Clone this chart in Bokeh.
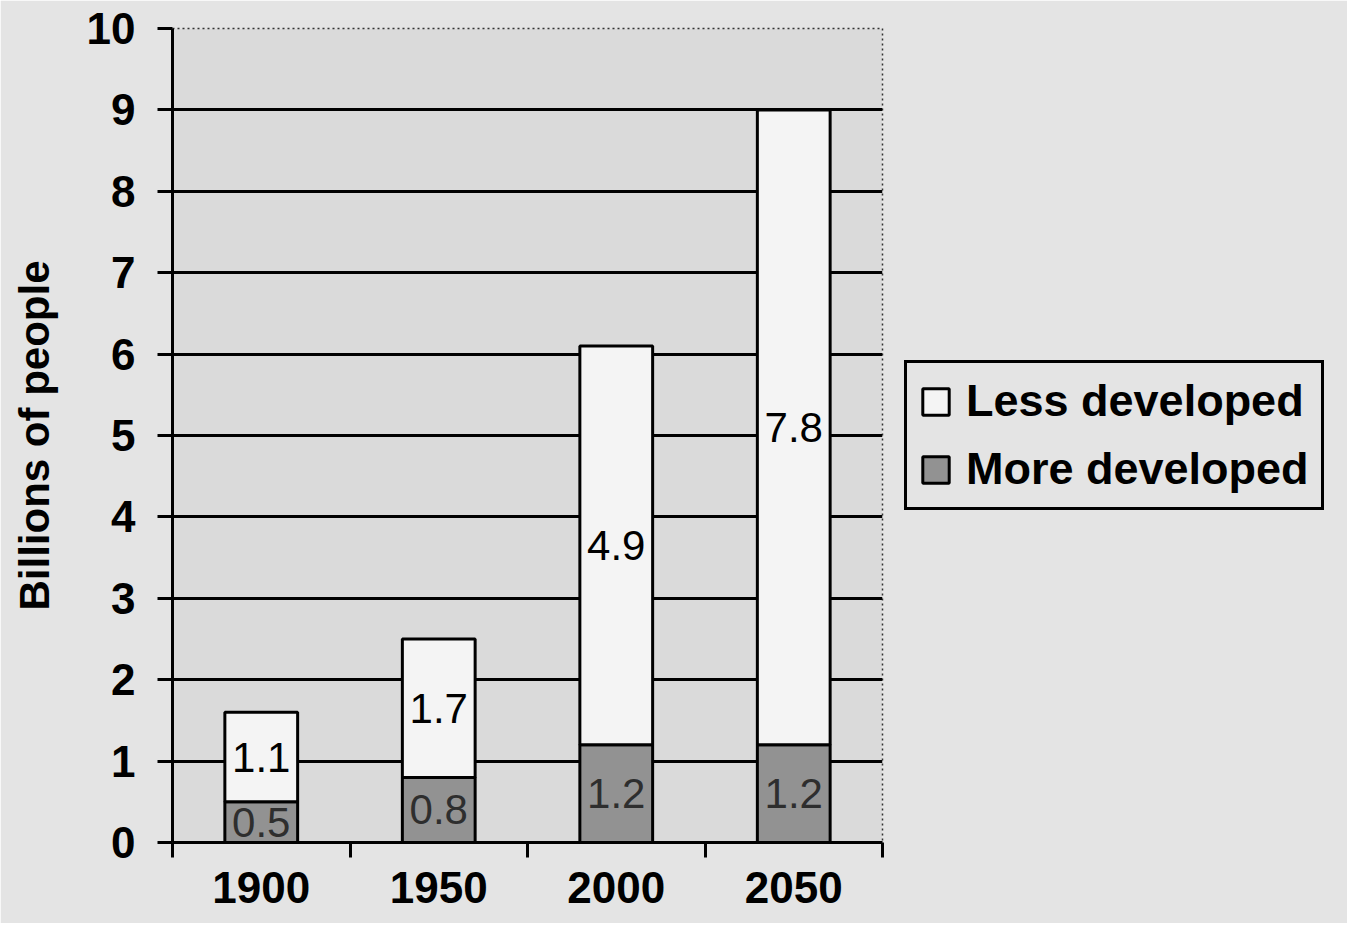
from bokeh.plotting import figure
from bokeh.models import FixedTicker, Legend, LegendItem, ColumnDataSource, Range1d
from bokeh.core.properties import value
from bokeh.embed import file_html
from bokeh.resources import INLINE

# ---- data ----
years = ["1900", "1950", "2000", "2050"]
more_developed = [0.5, 0.8, 1.2, 1.2]
less_developed = [1.1, 1.7, 4.9, 7.8]
y_ticks = [0, 1, 2, 3, 4, 5, 6, 7, 8, 9, 10]

FONT_NAME = "Liberation Sans"
FONT = value(FONT_NAME)
PAPER = "#e4e4e4"

xpos = [i + 0.5 for i in range(len(years))]
totals = [m + l for m, l in zip(more_developed, less_developed)]
src = ColumnDataSource(dict(
    x=xpos,
    more=more_developed,
    less=less_developed,
    total=totals,
    more_mid=[m / 2 for m in more_developed],
    less_mid=[m + l / 2 for m, l in zip(more_developed, less_developed)],
    more_lbl=[f"{v:.1f}" for v in more_developed],
    less_lbl=[f"{v:.1f}" for v in less_developed],
))

p = figure(frame_width=710, frame_height=814,
           x_range=Range1d(0, len(years)), y_range=Range1d(0, 10),
           output_backend="svg", toolbar_location=None,
           min_border_left=172, min_border_right=420,
           min_border_top=28, min_border_bottom=81)

p.border_fill_color = PAPER
p.background_fill_color = "#dadada"
p.outline_line_color = "#333333"
p.outline_line_dash = "2 3"
p.outline_line_width = 1.5

# grid
p.xgrid.grid_line_color = None
p.ygrid.ticker = FixedTicker(ticks=y_ticks)
p.ygrid.grid_line_color = "black"
p.ygrid.grid_line_width = 3

# bars
r_more = p.vbar(x="x", width=0.41, bottom=0, top="more", source=src,
                fill_color="#929292", line_color="black", line_width=3)
r_less = p.vbar(x="x", width=0.41, bottom="more", top="total", source=src,
                fill_color="#f4f4f4", line_color="black", line_width=3)

# labels
p.text(x="x", y="more_mid", text="more_lbl", source=src,
       text_align="center", text_baseline="middle",
       text_font=FONT, text_font_size="42px", text_color="#2e2e2e")
p.text(x="x", y="less_mid", text="less_lbl", source=src,
       text_align="center", text_baseline="middle",
       text_font=FONT, text_font_size="42px", text_color="black")

# x axis
xa = p.xaxis[0]
xa.ticker = FixedTicker(ticks=xpos, minor_ticks=list(range(len(years) + 1)))
xa.major_label_overrides = {x: y for x, y in zip(xpos, years)}
xa.major_tick_line_color = None
xa.major_tick_out = 15
xa.minor_tick_out = 15
xa.minor_tick_in = 0
xa.minor_tick_line_color = "black"
xa.minor_tick_line_width = 3
xa.axis_line_color = "black"
xa.axis_line_width = 3
xa.major_label_standoff = 14
xa.major_label_text_font = FONT_NAME
xa.major_label_text_font_size = "44px"
xa.major_label_text_font_style = "bold"
xa.major_label_text_color = "black"

# y axis
ya = p.yaxis[0]
ya.ticker = FixedTicker(ticks=y_ticks)
ya.minor_tick_line_color = None
ya.major_tick_out = 15
ya.major_tick_in = 0
ya.major_tick_line_color = "black"
ya.major_tick_line_width = 3
ya.axis_line_color = "black"
ya.axis_line_width = 3
ya.major_label_standoff = 22
ya.major_label_text_font = FONT_NAME
ya.major_label_text_font_size = "44px"
ya.major_label_text_font_style = "bold"
ya.major_label_text_color = "black"
ya.axis_label = "Billions of people"
ya.axis_label_text_font = FONT_NAME
ya.axis_label_text_font_size = "42px"
ya.axis_label_text_font_style = "bold"
ya.axis_label_text_color = "black"
ya.axis_label_standoff = 26

# legend in the right side panel
legend = Legend(items=[LegendItem(label="Less developed", renderers=[r_less]),
                       LegendItem(label="More developed", renderers=[r_more])],
                location="left", margin=22, padding=12, spacing=16,
                glyph_width=33, glyph_height=33, label_standoff=14,
                label_text_font=FONT_NAME, label_text_font_size="45px",
                label_text_font_style="bold", label_text_color="black",
                border_line_color="black", border_line_width=3, border_line_alpha=1.0,
                background_fill_color=PAPER, background_fill_alpha=1.0)
p.add_layout(legend, "right")

open("out.html", "w").write(file_html(p, INLINE))
